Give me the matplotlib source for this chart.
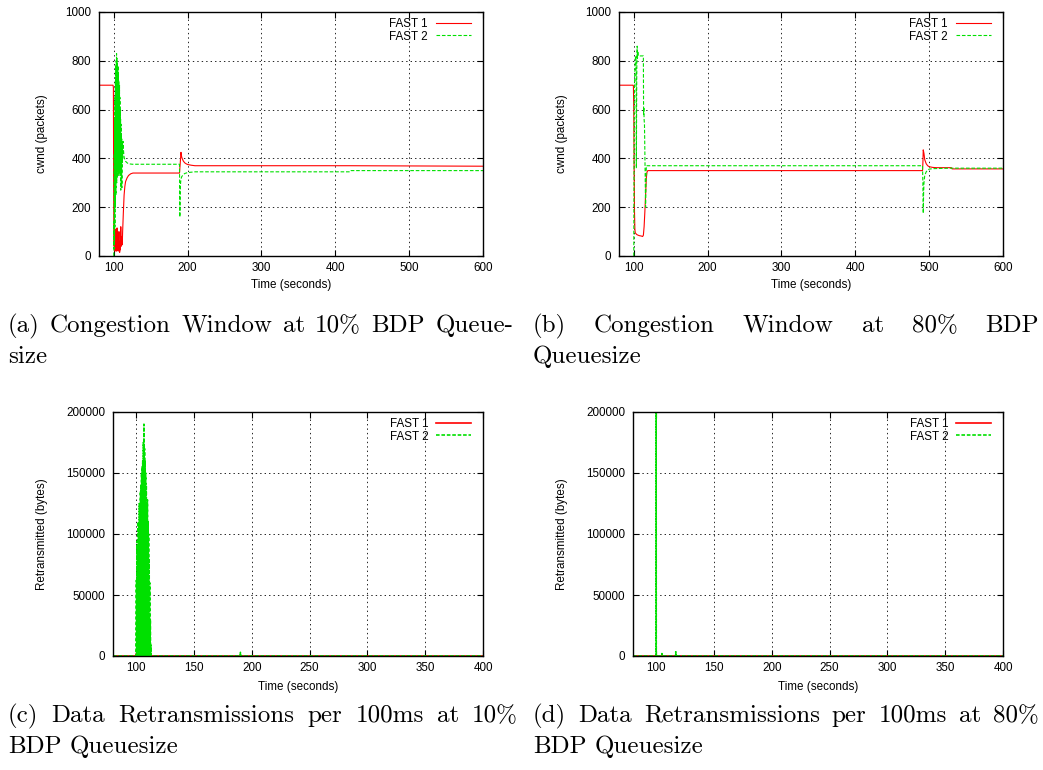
import matplotlib
matplotlib.use("Agg")
import matplotlib.pyplot as plt
from matplotlib.ticker import FixedLocator, FuncFormatter
from matplotlib.lines import Line2D

# ---------------- data ----------------
labels = ["FAST 1", "FAST 2"]

# (a) cwnd, 10% BDP
a_t1 = [80, 99, 99.5, 100, 100.5, 101, 101.5, 102, 102.5, 103, 103.5, 104, 104.5, 105,
        105.5, 106, 106.5, 107, 107.5, 108, 108.5, 109, 109.5, 110, 110.5, 111, 111.5,
        112, 113, 114, 115, 116, 118, 120, 123, 126, 130, 189, 190, 191, 192, 194, 196,
        198, 200, 205, 210, 420, 600]
a_v1 = [700, 700, 690, 140, 40, 130, 20, 60, 30, 110, 20, 50, 115, 25, 70, 20, 45, 100,
        30, 15, 60, 25, 120, 40, 80, 45, 50, 100, 180, 250, 285, 305, 320, 330, 337, 340,
        340, 340, 380, 425, 405, 390, 382, 378, 375, 372, 370, 370, 368]

a_t2 = [100.0, 100.25, 100.5, 100.75, 101.0, 101.25, 101.5, 101.75, 102.0, 102.25, 102.5,
        102.75, 103.0, 103.25, 103.5, 103.75, 104.0, 104.25, 104.5, 104.75, 105.0, 105.25,
        105.5, 105.75, 106.0, 106.25, 106.5, 106.75, 107.0, 107.25, 107.5, 107.75, 108.0,
        108.25, 108.5, 108.75, 109.0, 109.25, 109.5, 109.75, 110.0, 110.25, 110.5, 110.75,
        111.0, 111.25, 111.5, 111.75, 112.0, 112.5, 113.0, 113.5, 114, 115, 116, 118, 120,
        125, 189, 189.5, 190, 190.5, 191, 192, 194, 196, 200, 210, 420, 421, 600]
a_v2 = [0, 140, 30, 420, 60, 560, 120, 650, 200, 720, 330, 780, 250, 800, 340, 830, 300,
        810, 350, 790, 320, 760, 380, 780, 340, 740, 360, 720, 330, 690, 380, 700, 340, 650,
        390, 600, 350, 560, 270, 540, 330, 500, 360, 480, 280, 470, 380, 460, 400, 470, 440,
        420, 405, 395, 388, 382, 378, 376, 376, 160, 270, 300, 315, 325, 333, 338, 342, 345,
        345, 350, 350]

# (b) cwnd, 80% BDP
b_t1 = [80, 99, 99.5, 100, 100.5, 101, 101.5, 102, 104, 106, 108, 110, 112, 113, 114, 115,
        116, 117, 118, 119, 491, 491.5, 492, 493, 494, 496, 498, 500, 505, 510, 530, 531, 600]
b_v1 = [700, 700, 698, 600, 350, 180, 110, 95, 88, 85, 83, 82, 80, 85, 120, 180, 250, 320,
        345, 350, 350, 380, 435, 420, 395, 378, 370, 366, 363, 362, 362, 357, 357]

b_t2 = [100, 100.3, 100.6, 101, 101.5, 102, 102.5, 103, 103.5, 104, 104.3, 104.6, 105, 105.5,
        106, 106.5, 107, 113, 113.3, 113.6, 114, 114.5, 115, 116, 116.5, 117, 117.5, 491,
        491.5, 492, 492.5, 493, 494, 496, 498, 500, 505, 530, 600]
b_v2 = [0, 300, 600, 700, 760, 800, 820, 810, 360, 720, 830, 860, 810, 840, 820, 820, 820,
        820, 580, 610, 560, 540, 430, 200, 300, 370, 370, 370, 300, 175, 260, 300, 330, 345,
        352, 356, 358, 360, 360]

# (c) retransmissions, 10% BDP
c_t1 = [80, 100, 100.25, 100.5, 111.9, 112.1, 112.3, 400]
c_v1 = [0, 0, 2000, 0, 0, 4000, 0, 0]
c_t2 = [80, 100.0, 100.25, 100.5, 100.75, 101.0, 101.25, 101.5, 101.75, 102.0, 102.25,
        102.5, 102.75, 103.0, 103.25, 103.5, 103.75, 104.0, 104.25, 104.5, 104.75, 105.0,
        105.25, 105.5, 105.75, 106.0, 106.25, 106.5, 106.75, 107.0, 107.25, 107.5, 107.75,
        108.0, 108.25, 108.5, 108.75, 109.0, 109.25, 109.5, 109.75, 110.0, 110.25, 110.5,
        110.75, 111.0, 111.25, 111.5, 111.75, 112.0, 112.25, 112.5, 112.75, 113.0,
        190.0, 190.2, 190.4, 400]
c_v2 = [0, 0, 62000, 0, 94000, 0, 90000, 0, 110000, 0, 105000, 0, 125000, 0, 120000, 0,
        135000, 0, 140000, 0, 150000, 0, 155000, 0, 160000, 0, 175000, 0, 190000, 0,
        170000, 0, 160000, 0, 150000, 0, 140000, 0, 125000, 0, 128000, 0, 110000, 0,
        100000, 0, 80000, 0, 60000, 0, 30000, 0, 9000, 0,
        0, 3000, 0, 0]

# (d) retransmissions, 80% BDP
d_t1 = [80, 400]
d_v1 = [0, 0]
d_t2 = [80, 99.9, 100.0, 100.1, 104.9, 105.0, 105.1, 116.9, 117.0, 117.1, 400]
d_v2 = [0, 0, 230000, 0, 0, 2000, 0, 0, 3500, 0, 0]

cwnd_yticks = [0, 200, 400, 600, 800, 1000]
cwnd_xticks = [100, 200, 300, 400, 500, 600]
retr_yticks = [0, 50000, 100000, 150000, 200000]
retr_xticks = [100, 150, 200, 250, 300, 350, 400]

captions = [
    ("(a) Congestion Window at 10% BDP Queue-", "size"),
    ("(b) Congestion Window at 80% BDP", "Queuesize"),
    ("(c) Data Retransmissions per 100ms at 10%", "BDP Queuesize"),
    ("(d) Data Retransmissions per 100ms at 80%", "BDP Queuesize"),
]

# ---------------- style ----------------
W, H = 1043, 770
plt.rcParams['font.family'] = ['Liberation Sans', 'DejaVu Sans']
plt.rcParams['lines.scale_dashes'] = False
RED = '#ff0000'
GREEN = '#00e000'
DASH = (0, (2.6, 1.3))
FS = 8.4

fig = plt.figure(figsize=(W / 100, H / 100), dpi=100)


def px_axes(l, t, r, b):
    return fig.add_axes([l / W, 1 - b / H, (r - l) / W, (b - t) / H])


def style(ax, xlim, ylim, xt, yt, ylab, ylab_x, xlab_y, lw):
    ax.set_xlim(*xlim)
    ax.set_ylim(*ylim)
    ax.xaxis.set_major_locator(FixedLocator(xt))
    ax.yaxis.set_major_locator(FixedLocator(yt))
    fmt = FuncFormatter(lambda v, p: "%d" % round(v))
    ax.xaxis.set_major_formatter(fmt)
    ax.yaxis.set_major_formatter(fmt)
    ax.tick_params(direction='in', top=True, right=True, length=4, width=0.8,
                   labelsize=FS, colors='black')
    ax.tick_params(axis='x', pad=4)
    ax.tick_params(axis='y', pad=5.5)
    ax.grid(True, color='black', linestyle=(0, (1, 2.2)), linewidth=0.6)
    ax.set_axisbelow(True)
    for s in ax.spines.values():
        s.set_linewidth(1.0)
        s.set_color('black')
    ax.set_ylabel(ylab, fontsize=FS)
    ax.yaxis.set_label_coords(ylab_x, 0.5)
    ax.set_xlabel("Time (seconds)", fontsize=FS)
    ax.xaxis.set_label_coords(0.5, xlab_y)
    handles = [Line2D([], [], color=RED, lw=lw),
               Line2D([], [], color=GREEN, lw=lw, linestyle=DASH)]
    leg = ax.legend(handles, labels, loc='upper right', bbox_to_anchor=(0.975, 0.985),
                    frameon=False, markerfirst=False, fontsize=FS, handlelength=3.0,
                    handletextpad=0.7, labelspacing=0.05, borderpad=0.2,
                    borderaxespad=0.0)
    return leg


# (a)
axa = px_axes(99, 12, 483, 256)
axa.plot(a_t1, a_v1, color=RED, lw=0.8)
axa.plot(a_t2, a_v2, color=GREEN, lw=0.8, linestyle=DASH)
style(axa, (80, 600), (0, 1000), cwnd_xticks, cwnd_yticks, "cwnd (packets)", -0.133, -0.094, 0.8)

# (b)
axb = px_axes(619, 12, 1003, 256)
axb.plot(b_t1, b_v1, color=RED, lw=0.8)
axb.plot(b_t2, b_v2, color=GREEN, lw=0.8, linestyle=DASH)
style(axb, (80, 600), (0, 1000), cwnd_xticks, cwnd_yticks, "cwnd (packets)", -0.133, -0.094, 0.8)

# (c)
axc = px_axes(113, 412, 483, 656)
axc.plot(c_t1, c_v1, color=RED, lw=1.2)
axc.plot(c_t2, c_v2, color=GREEN, lw=1.2, linestyle=DASH)
style(axc, (80, 400), (0, 200000), retr_xticks, retr_yticks, "Retransmitted (bytes)", -0.176, -0.102, 1.2)

# (d)
axd = px_axes(633, 412, 1003, 656)
axd.plot(d_t1, d_v1, color=RED, lw=1.2)
axd.plot(d_t2, d_v2, color=GREEN, lw=1.2, linestyle=DASH)
style(axd, (80, 400), (0, 200000), retr_xticks, retr_yticks, "Retransmitted (bytes)", -0.176, -0.102, 1.2)

# ---------------- captions (justified first lines) ----------------
CAP_FS = 18
renderer = fig.canvas.get_renderer()


def place_line(text, x0, x1, y_base, justify):
    words = text.split(" ")
    objs = [fig.text(0, 0, w, fontsize=CAP_FS, family=['cmr10', 'DejaVu Serif'],
                     ha='left', va='baseline') for w in words]
    widths = [o.get_window_extent(renderer).width for o in objs]
    if justify and len(words) > 1:
        gap = (x1 - x0 - sum(widths)) / (len(words) - 1)
    else:
        gap = CAP_FS * 100 / 72 * 0.333
    x = x0
    for o, w in zip(objs, widths):
        o.set_position((x / W, 1 - y_base / H))
        x += w + gap


cap_boxes = [(8, 513, 332), (533, 1039, 332), (8, 518, 722), (533, 1039, 722)]
for (l1, l2), (x0, x1, yb) in zip(captions, cap_boxes):
    place_line(l1, x0, x1, yb, True)
    place_line(l2, x0, x1, yb + 31, False)

fig.savefig("out.png", dpi=100)
